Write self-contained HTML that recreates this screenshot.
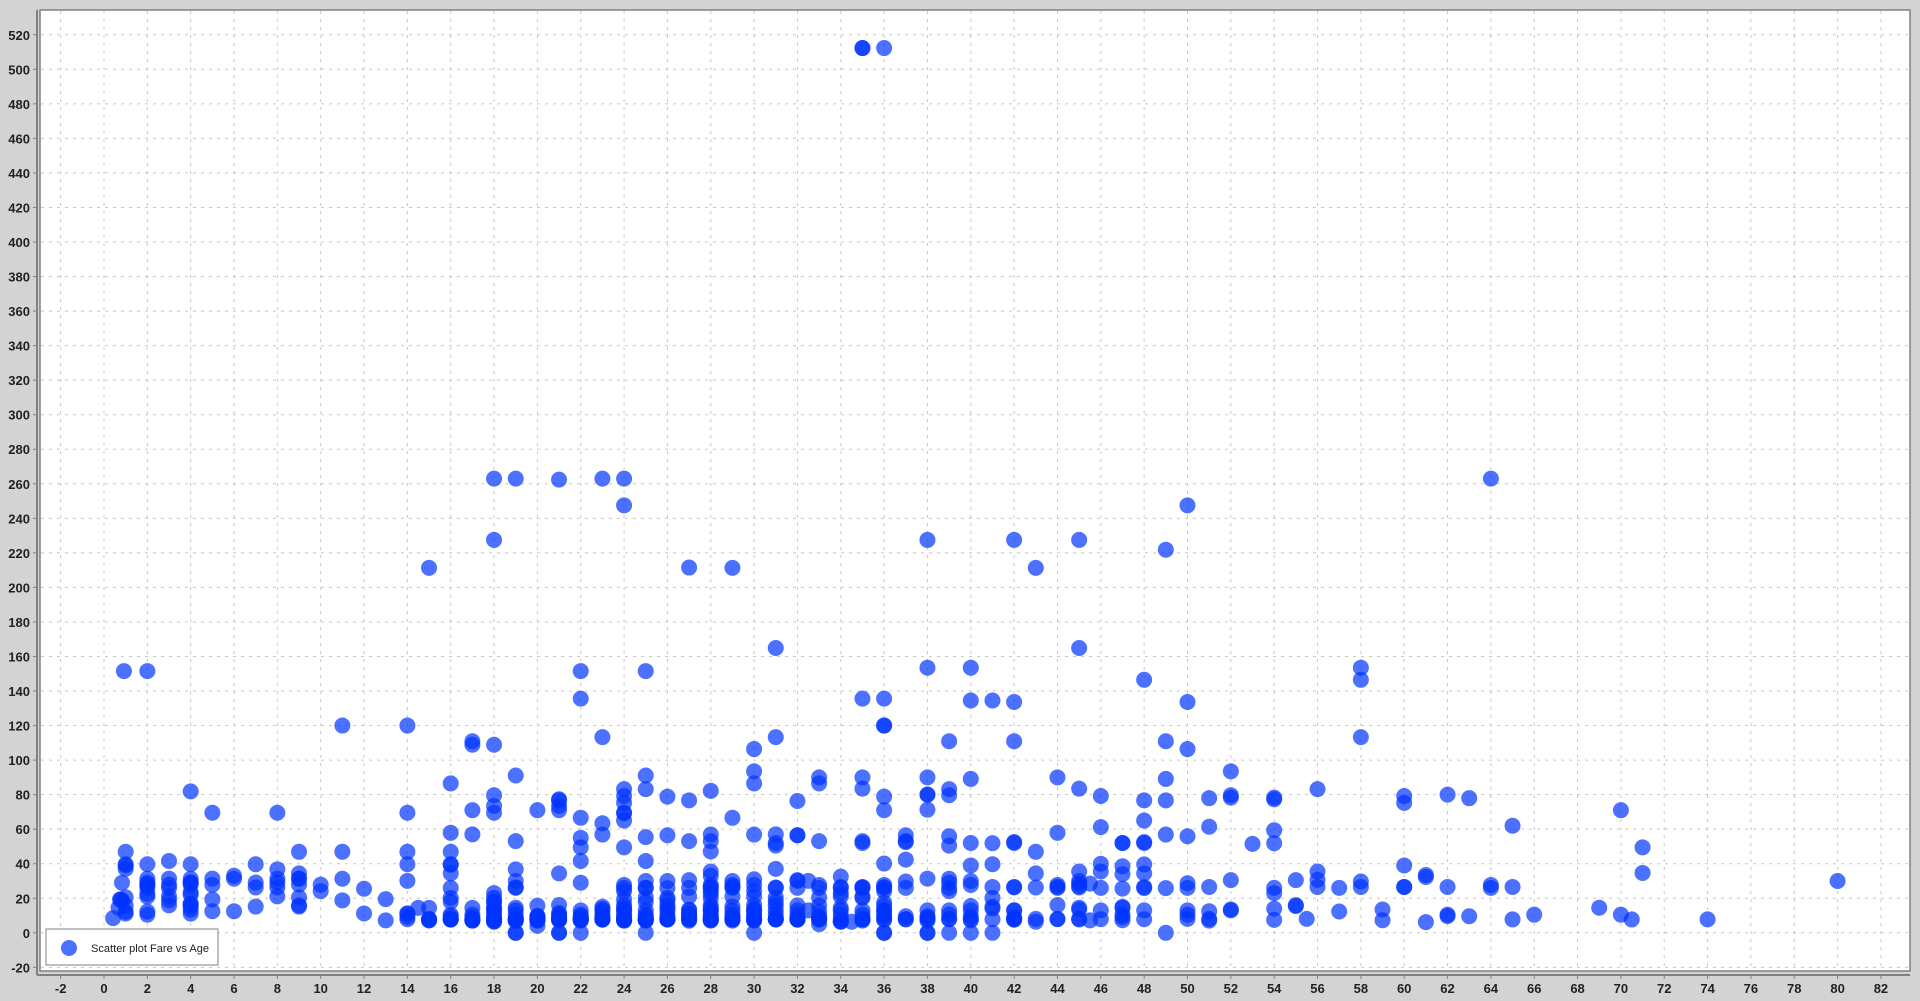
<!DOCTYPE html>
<html><head><meta charset="utf-8"><style>
html,body{margin:0;padding:0;background:#d3d3d3;}
svg{display:block;font-family:"Liberation Sans",sans-serif;}
</style></head><body>
<svg id="chart" width="1920" height="1001" xmlns="http://www.w3.org/2000/svg">
<rect x="0" y="0" width="1920" height="1001" fill="#d3d3d3"/>
<rect x="40" y="10" width="1870" height="961" fill="#ffffff" stroke="#808080" stroke-width="1.5"/>
<g id="grid"></g>
<line x1="37" y1="10" x2="37" y2="975" stroke="#808080" stroke-width="2"/>
<line x1="37" y1="975" x2="1910" y2="975" stroke="#808080" stroke-width="2"/>
<g id="xticks"></g>
<g id="yticks"></g>
<g id="points"></g>
<g>
<rect x="46" y="929" width="172" height="36" fill="#fff" stroke="#808080" stroke-width="1"/>
<circle cx="69" cy="948" r="8" fill="rgb(0,51,255)" fill-opacity="0.7"/>
<text x="91" y="952" font-size="11" textLength="118" lengthAdjust="spacingAndGlyphs" fill="#222">Scatter plot Fare vs Age</text>
</g>
</svg>
<script>
const xTicks = [-2,0,2,4,6,8,10,12,14,16,18,20,22,24,26,28,30,32,34,36,38,40,42,44,46,48,50,52,54,56,58,60,62,64,66,68,70,72,74,76,78,80,82];
const yTicks = [-20,0,20,40,60,80,100,120,140,160,180,200,220,240,260,280,300,320,340,360,380,400,420,440,460,480,500,520];
const groupAges = [0.42,0.67,0.75,0.83,0.92,1,2,3,4,5,6,7,8,9,10,11,12,13,14,14.5,15,16,17,18,19,20,21,22,23,24,25,26,27,28,29,30,31,32,32.5,33,34,34.5,35,36,37,38,39,40,41,42,43,44,45,45.5,46,47,48,49,50,51,52,53,54,55,55.5,56,57,58,59,60,61,62,63,64,65,66,69,70,70.5,71,74,80];
const groupFares = [
[8.5],[14.5],[19.3,19.3],[29,18.75],[151.55],
[11.1,39,39.7,46.9,20.6,15.7,12.2,37],
[151.55,10.5,12.3,21,22.5,27.9,29,31.3,39.7,26,27.9],
[41.6,31.4,26,21.1,18.75,15.9,27.9],
[81.9,39.7,31.3,29.1,27.9,23.5,22,16.7,15.2,13.4,11.1,16.7,29.1],
[69.5,31.4,27.75,19.3,12.5],
[33,31.3,12.5],
[39.7,29.1,26.25,15.2],
[69.5,36.75,31.4,29.1,26.25,21.1],
[46.9,34.4,31.3,31.4,27.9,20.5,15.9,15.2],
[27.9,24.15],
[120,46.9,31.3,18.8],
[25.5,11.2],
[19.5,7.2],
[120,69.5,46.9,39.7,30.1,11.2,11.2,7.85,9.2],
[14.45],
[211.3,14.45,8,7.2,8,7.2],
[86.5,57.9,46.9,39.4,39.7,34.4,26,20.2,18,10.5,9.5,8.05,7.75,7.73,7.65],
[110.9,108.9,71,57,14.45,10.5,8.66,7.9,7.2,7.73,7.1,7.05],
[263,227.5,108.9,79.65,73.5,69.5,23,20.2,18,14.45,13,11.5,9.35,8.05,7.75,7.8,7.5,7.23,6.5,6.5,17.8,14.45],
[263,91.1,53.1,36.75,30,26,26.3,14.5,13,10.5,8.05,7.9,7.85,7.8,7.65,7.2,6.75,0,0],
[71,9.5,15.7,9.2,7.9,7.85,7.2,4,8.05,7.05,9.8,7.925],
[262.4,77.3,76.7,73.5,71,34.4,16.1,11.5,10.5,8.05,7.8,7.75,7.73,7.25,9.5,0,0,8.4],
[151.55,135.6,66.6,55,49.5,41.6,29,13,10.5,9.35,9,8.05,7.8,7.8,7.75,7.25,7.1,0],
[263,113.3,63.4,56.9,15.05,13.8,10.5,8.05,7.85,7.85,7.55,9.2,13,7.8],
[263,247.5,83.2,79.2,75.25,69.3,69.5,65,49.5,27.7,26,24.15,16.1,13,13,10.5,9.5,8.05,7.9,7.8,7.5,7.1,7.05,14.5,19.3],
[151.55,91.1,83.2,55.4,41.6,30,26,26,17.8,13,10.5,9.5,8.05,7.9,7.8,7.75,7.25,7.05,0,7.65,20.5],
[78.85,56.5,30,25.9,20.2,18.8,16.1,14.45,13,10.5,8.05,7.9,7.8,7.78,7.75,8.66,7.7],
[211.5,76.7,53.1,30.5,26,21,13.5,13,11.1,10.5,8.66,7.9,7.8,7.75,9.5,6.98],
[82.2,56.9,53.1,47.1,35.5,33,27.7,26.55,26,24.15,22.5,15.85,14.4,13,12.65,10.5,9.5,8.05,7.9,7.9,7.8,7.75,7.25,7.05,19.97],
[211.3,66.6,30,27.7,26,21,13,10.5,9.5,8.05,7.9,7.75,7.05,15.25,26.5],
[106.4,93.5,86.5,56.9,31,27.75,24.15,21,16.1,13,12.5,10.5,9.5,8.05,7.9,7.75,7.23,0,13.8,7.2],
[164.9,113.3,57,52,50.5,37,26.25,26,20.5,18,10.5,8.05,7.9,7.75,7.73,13,15.85],
[76.3,56.5,56.5,30.5,26,15.85,13,10.5,8.05,7.9,7.85,7.75,7.58,30.07,8.36],
[30.07,13],
[90,86.5,53.1,27.7,26,20.5,15.85,12.3,9.5,8.65,7.9,7.85,7.75,5],
[32.5,26.55,26,23,21,14.5,13,10.5,8.05,6.5,6.5,6.5],
[6.4],
[512.3,512.3,135.6,90,83.5,53.1,52,26.3,26,21,20.25,13,10.5,8.05,7.9,7.75,7.05,26.55],
[512.3,135.6,120,120,78.85,71,40.1,27.7,26.4,26,24.15,17.4,15.5,13,12.9,10.5,9.5,7.9,7.5,0,0],
[53.1,52.55,29.7,26,9.6,7.9,7.75,42.4,56.5],
[227.5,153.5,90,80,80,71.3,31.4,13,9.6,8.66,7.9,7.05,0,0],
[110.9,83.2,79.65,55.9,50.5,31.3,29.1,26,24.15,13,10.5,7.9,7.93,0],
[153.5,134.5,89.1,52,39,30,27.7,15.5,13,9.5,7.9,7.23,0],
[134.5,51.9,39.7,26.55,20.2,15.05,14.1,7.85,0],
[227.5,133.65,110.9,52.55,52,26.55,26.3,13,13,8.66,7.75,7.55,8.4],
[211.3,46.9,34.4,26.25,8.05,6.45],
[90,57.9,26,16.1,8.05,7.9,26.6,27.7],
[227.5,164.9,83.5,35.5,30,28.5,26.25,13.5,8.05,7.75,14.5,27],
[28.5,7.2],
[79.2,61.2,40,35.5,26,13,7.9],
[52,52,38.5,34,25.6,15,14.5,9,7.25,10.5],
[146.5,76.7,65,52.5,52,39.6,34.4,26.55,25.9,13,7.85],
[221.8,110.9,89.1,76.7,56.9,25.9,0],
[247.5,133.65,106.4,55.9,28.7,26,13,10.5,8.05],
[77.96,61.4,26.55,12.5,8.05,7.05],
[93.5,79.65,78.3,30.5,13.5,13],
[51.5],
[78.27,77.3,59.4,51.86,26,23,14,7.5],
[30.5,16,15.5],
[8.05],
[83.2,35.5,30.7,26.55],
[26,12.35],
[153.5,146.5,113.3,29.7,26.55],
[13.5,7.25],
[79.2,75.25,39,26.55,26.55],
[33.5,32.3,6.2],
[80,26.55,10.5,9.69],
[77.96,9.59],
[263,26,27.7],
[61.98,26.55,7.75],
[10.5],
[14.5],
[71,10.5],
[7.75],
[49.5,34.65],
[7.775],
[30]
];
const NS = "http://www.w3.org/2000/svg";
function xPos(a){ return 104 + a * 21.67; }
function yPos(f){ return 932.8 - f * 1.727; }
const grid = document.getElementById('grid');
const xt = document.getElementById('xticks');
const yt = document.getElementById('yticks');
xTicks.forEach(function(v){
  const l = document.createElementNS(NS,'line');
  l.setAttribute('x1',xPos(v)); l.setAttribute('x2',xPos(v));
  l.setAttribute('y1',11); l.setAttribute('y2',970);
  l.setAttribute('stroke','#c8c8c8'); l.setAttribute('stroke-dasharray','3,5');
  
  
  grid.appendChild(l);
  const t = document.createElementNS(NS,'text');
  t.setAttribute('x',xPos(v)); t.setAttribute('y',993);
  t.setAttribute('text-anchor','middle'); t.setAttribute('font-size','13'); t.setAttribute('font-weight','bold'); t.setAttribute('fill','#222');
  t.textContent = v;
  
  
  xt.appendChild(t);
  const k = document.createElementNS(NS,'line');
  k.setAttribute('x1',xPos(v)); k.setAttribute('x2',xPos(v)); k.setAttribute('y1',975); k.setAttribute('y2',979);
  k.setAttribute('stroke','#808080');
  
  
  xt.appendChild(k);
});
yTicks.forEach(function(v){
  const l = document.createElementNS(NS,'line');
  l.setAttribute('x1',41); l.setAttribute('x2',1909);
  l.setAttribute('y1',yPos(v)); l.setAttribute('y2',yPos(v));
  l.setAttribute('stroke','#c8c8c8'); l.setAttribute('stroke-dasharray','3,5');
  
  
  grid.appendChild(l);
  const t = document.createElementNS(NS,'text');
  t.setAttribute('x',30); t.setAttribute('y',yPos(v)+5);
  t.setAttribute('text-anchor','end'); t.setAttribute('font-size','13'); t.setAttribute('font-weight','bold'); t.setAttribute('fill','#222');
  t.textContent = v;
  
  
  yt.appendChild(t);
  const k = document.createElementNS(NS,'line');
  k.setAttribute('x1',33); k.setAttribute('x2',37); k.setAttribute('y1',yPos(v)); k.setAttribute('y2',yPos(v));
  k.setAttribute('stroke','#808080');
  
  
  yt.appendChild(k);
});
const pts = document.getElementById('points');
groupAges.forEach(function(a, i){
  groupFares[i].forEach(function(f){
    const c = document.createElementNS(NS,'circle');
    c.setAttribute('cx',xPos(a)); c.setAttribute('cy',yPos(f)); c.setAttribute('r',8);
    c.setAttribute('fill','rgb(0,51,255)'); c.setAttribute('fill-opacity','0.7');
    
    
    pts.appendChild(c);
  });
});
</script>
</body></html>
